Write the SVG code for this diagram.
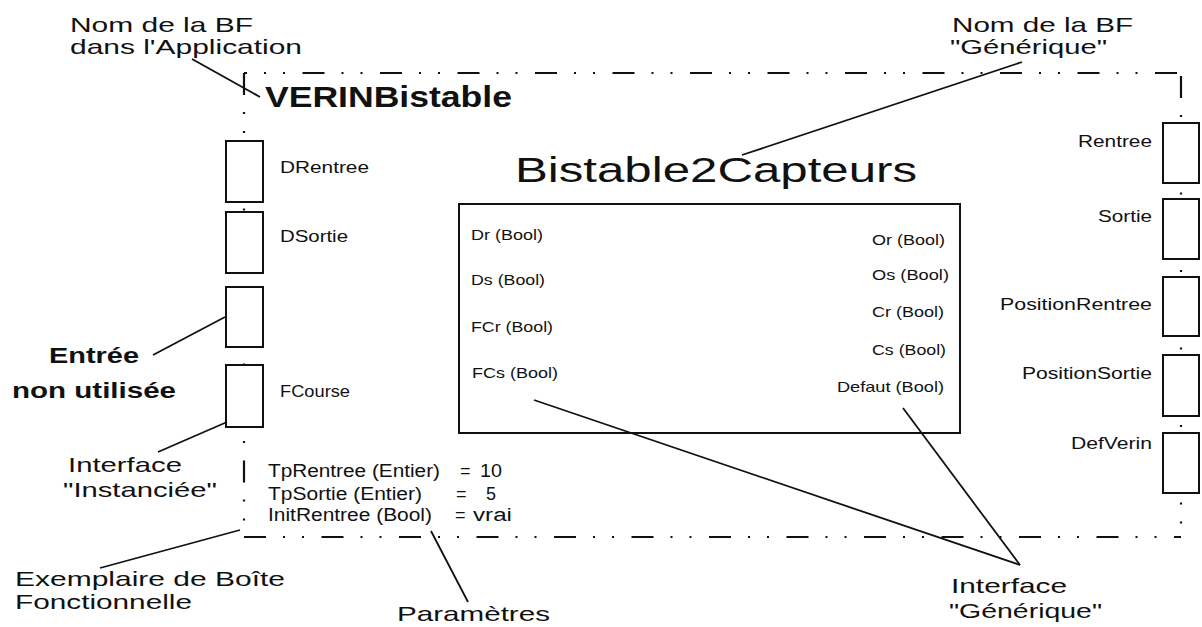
<svg xmlns="http://www.w3.org/2000/svg" width="1202" height="627" viewBox="0 0 1202 627">
<style>
.t{font-family:"Liberation Sans",Arial,Helvetica,sans-serif;fill:#111}
.port{font-size:16px}
.gen{font-size:15px}
.par{font-size:18px}
.ann{font-size:21px}
.b{font-weight:bold}
.box{fill:#fff;stroke:#111;stroke-width:2}
.lead{stroke:#111;stroke-width:1.8;fill:none}
.dash{stroke:#111;stroke-width:2.2;fill:none;stroke-dasharray:22 17 2 17 2 17.5}
</style>
<rect width="1202" height="627" fill="#fff"/>

<g id="instance-border">
  <path class="dash" d="M244 73 V537"/>
  <path class="dash" d="M244 537 H1181"/>
  <path class="dash" d="M1181 73 V537" stroke-dashoffset="-3"/>
  <path class="dash" d="M244 73 H1181" stroke-dashoffset="19"/>
</g>

<g id="instance-name">
  <text class="t b" x="265" y="107" font-size="30" textLength="247" lengthAdjust="spacingAndGlyphs">VERINBistable</text>
</g>

<g id="generic-box">
  <text class="t" x="515" y="182" font-size="35" textLength="402" lengthAdjust="spacingAndGlyphs">Bistable2Capteurs</text>
  <rect class="box" x="459" y="204" width="501" height="229"/>
  <text class="t gen" x="471" y="240" textLength="72" lengthAdjust="spacingAndGlyphs">Dr (Bool)</text>
  <text class="t gen" x="471" y="285" textLength="74" lengthAdjust="spacingAndGlyphs">Ds (Bool)</text>
  <text class="t gen" x="471" y="332" textLength="82" lengthAdjust="spacingAndGlyphs">FCr (Bool)</text>
  <text class="t gen" x="472" y="378" textLength="86" lengthAdjust="spacingAndGlyphs">FCs (Bool)</text>
  <text class="t gen" x="872" y="245" textLength="73" lengthAdjust="spacingAndGlyphs">Or (Bool)</text>
  <text class="t gen" x="872" y="280" textLength="77" lengthAdjust="spacingAndGlyphs">Os (Bool)</text>
  <text class="t gen" x="872" y="317" textLength="72" lengthAdjust="spacingAndGlyphs">Cr (Bool)</text>
  <text class="t gen" x="872" y="355" textLength="74" lengthAdjust="spacingAndGlyphs">Cs (Bool)</text>
  <text class="t gen" x="837" y="392" textLength="107" lengthAdjust="spacingAndGlyphs">Defaut (Bool)</text>
</g>

<g id="in-DRentree">
  <rect class="box" x="226" y="141" width="37" height="61"/>
  <text class="t port" x="280" y="173" textLength="89" lengthAdjust="spacingAndGlyphs">DRentree</text>
</g>
<g id="in-DSortie">
  <rect class="box" x="226" y="212" width="37" height="61"/>
  <text class="t port" x="280" y="242" textLength="68" lengthAdjust="spacingAndGlyphs">DSortie</text>
</g>
<g id="in-unused">
  <rect class="box" x="226" y="287" width="37" height="60"/>
</g>
<g id="in-FCourse">
  <rect class="box" x="226" y="365" width="37" height="62"/>
  <text class="t port" x="280" y="397" textLength="70" lengthAdjust="spacingAndGlyphs">FCourse</text>
</g>

<g id="out-Rentree">
  <rect class="box" x="1163" y="123" width="36" height="60"/>
  <text class="t port" x="1078" y="147" textLength="74" lengthAdjust="spacingAndGlyphs">Rentree</text>
</g>
<g id="out-Sortie">
  <rect class="box" x="1163" y="199" width="36" height="60"/>
  <text class="t port" x="1098" y="222" textLength="54" lengthAdjust="spacingAndGlyphs">Sortie</text>
</g>
<g id="out-PositionRentree">
  <rect class="box" x="1163" y="277" width="36" height="59"/>
  <text class="t port" x="1000" y="310" textLength="152" lengthAdjust="spacingAndGlyphs">PositionRentree</text>
</g>
<g id="out-PositionSortie">
  <rect class="box" x="1163" y="355" width="36" height="61"/>
  <text class="t port" x="1022" y="379" textLength="130" lengthAdjust="spacingAndGlyphs">PositionSortie</text>
</g>
<g id="out-DefVerin">
  <rect class="box" x="1163" y="433" width="36" height="60"/>
  <text class="t port" x="1071" y="449" textLength="81" lengthAdjust="spacingAndGlyphs">DefVerin</text>
</g>

<g id="parameters">
  <text class="t par" y="477"><tspan x="268" textLength="172" lengthAdjust="spacingAndGlyphs">TpRentree (Entier)</tspan><tspan x="460">=</tspan><tspan x="480" textLength="22" lengthAdjust="spacingAndGlyphs">10</tspan></text>
  <text class="t par" y="500"><tspan x="268" textLength="154" lengthAdjust="spacingAndGlyphs">TpSortie (Entier)</tspan><tspan x="456">=</tspan><tspan x="486">5</tspan></text>
  <text class="t par" y="521"><tspan x="268" textLength="164" lengthAdjust="spacingAndGlyphs">InitRentree (Bool)</tspan><tspan x="455">=</tspan><tspan x="473" textLength="39" lengthAdjust="spacingAndGlyphs">vrai</tspan></text>
</g>

<g id="label-nom-application">
  <text class="t ann" x="70" y="32" textLength="183" lengthAdjust="spacingAndGlyphs">Nom de la BF</text>
  <text class="t ann" x="70" y="54" textLength="232" lengthAdjust="spacingAndGlyphs">dans l'Application</text>
</g>
<g id="label-nom-generique">
  <text class="t ann" x="952" y="32" textLength="181" lengthAdjust="spacingAndGlyphs">Nom de la BF</text>
  <text class="t ann" x="950" y="54" textLength="157" lengthAdjust="spacingAndGlyphs">"Générique"</text>
</g>
<g id="label-entree">
  <text class="t b" x="49" y="363" font-size="22" textLength="90" lengthAdjust="spacingAndGlyphs">Entrée</text>
  <text class="t b" x="12" y="398" font-size="22" textLength="164" lengthAdjust="spacingAndGlyphs">non utilisée</text>
</g>
<g id="label-interface-instanciee">
  <text class="t ann" x="68" y="472" textLength="114" lengthAdjust="spacingAndGlyphs">Interface</text>
  <text class="t ann" x="63" y="497" textLength="154" lengthAdjust="spacingAndGlyphs">"Instanciée"</text>
</g>
<g id="label-exemplaire">
  <text class="t ann" x="15" y="586" textLength="270" lengthAdjust="spacingAndGlyphs">Exemplaire de Boîte</text>
  <text class="t ann" x="15" y="609" textLength="177" lengthAdjust="spacingAndGlyphs">Fonctionnelle</text>
</g>
<g id="label-parametres">
  <text class="t ann" x="397" y="621" textLength="153" lengthAdjust="spacingAndGlyphs">Paramètres</text>
</g>
<g id="label-interface-generique">
  <text class="t ann" x="951" y="593" textLength="116" lengthAdjust="spacingAndGlyphs">Interface</text>
  <text class="t ann" x="949" y="618" textLength="153" lengthAdjust="spacingAndGlyphs">"Générique"</text>
</g>

<g id="connectors">
  <line class="lead" x1="192" y1="59" x2="260" y2="97"/>
  <line class="lead" x1="1022" y1="62" x2="742" y2="155"/>
  <line class="lead" x1="153" y1="355" x2="225" y2="317"/>
  <line class="lead" x1="158" y1="452" x2="227" y2="422"/>
  <line class="lead" x1="100" y1="568" x2="240" y2="530"/>
  <line class="lead" x1="468" y1="602" x2="431" y2="531"/>
  <line class="lead" x1="534" y1="400" x2="1020" y2="565"/>
  <line class="lead" x1="903" y1="408" x2="1020" y2="565"/>
</g>
</svg>
